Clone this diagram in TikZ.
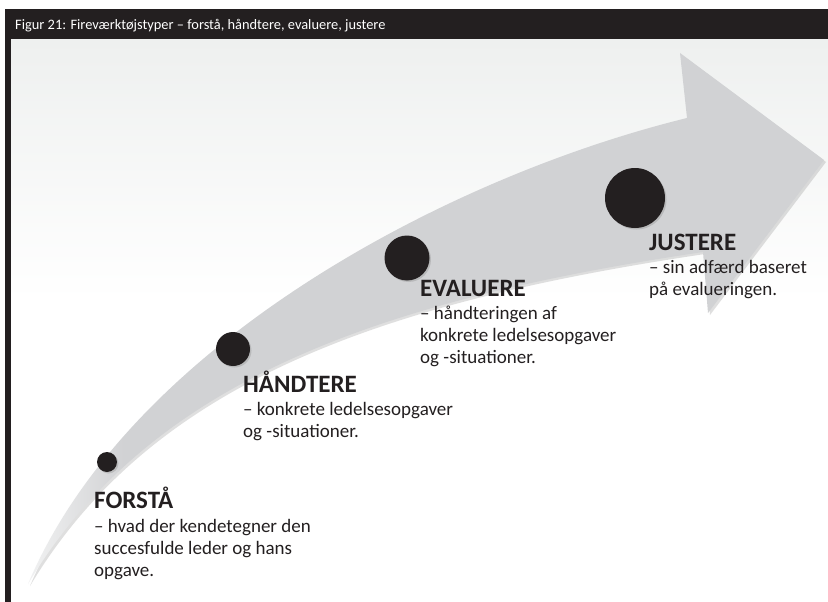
\documentclass[tikz,border=0pt]{standalone}
\usepackage{fontspec}
\setmainfont{Carlito}
\usetikzlibrary{positioning, calc, shadows}
\definecolor{barColor}{RGB}{35,31,32}
\definecolor{arrowColor}{RGB}{209,210,212}
\definecolor{bgColor}{RGB}{238,240,239}
\pgfdeclarehorizontalshading{arrowfade}{100bp}{color(0bp)=(arrowColor!30!white); color(25bp)=(arrowColor!30!white); color(31bp)=(arrowColor); color(100bp)=(arrowColor)}
\tikzstyle{dot} = [circle, inner sep=0pt, fill=barColor, drop shadow={shadow xshift=1.5pt, shadow yshift=-1.5pt, opacity=0.3}]
\tikzstyle{heading} = [anchor=base west, inner sep=0pt, text=barColor, font=\fontsize{25}{27}\selectfont\bfseries]
\tikzstyle{body} = [anchor=base west, inner sep=0pt, align=left, text=barColor, font=\fontsize{19}{22}\selectfont]
\begin{document}
\begin{tikzpicture}[x=1pt, y=-1pt]
\useasboundingbox (0,0) rectangle (828,602);
% background and frame
\fill[white] (10,40) rectangle (828,602);
\shade[top color=bgColor, bottom color=white] (10,40) rectangle (828,300);
\fill[barColor] (5,9) rectangle (828,39);
\fill[barColor] (5,9) rectangle (10.5,602);
\node (title) [anchor=base west, inner sep=0pt, text=white, font=\fontsize{14.4}{16}\selectfont] at (15,29.5) {Figur 21: Fireværktøjstyper – forstå, håndtere, evaluere, justere};

% the big arrow
\path[shade, shading=arrowfade, drop shadow={shadow xshift=2pt, shadow yshift=-2pt, opacity=0.25}]
  (28,584) .. controls (130,343) and (450,176) .. (687,118) -- (680,53) -- (824,160)
  -- (708,313) -- (703,252) .. controls (380,300) and (150,380) .. (28,584) -- cycle;

% dots
\node (dotforsta) [dot, minimum size=20pt] at (107,462) {};
\node (dothandtere) [dot, minimum size=34pt] at (233,349) {};
\node (dotevaluere) [dot, minimum size=45pt] at (407,258) {};
\node (dotjustere) [dot, minimum size=60pt] at (635,198) {};

% labels (base of a text block = its last line)
\node (forsta) [heading] at (94,508) {FORSTÅ};
\node (forstatxt) [body] at ($(forsta.base west)+(0,68)$) {– hvad der kendetegner den\\succesfulde leder og hans\\opgave.};
\node (handtere) [heading] at (243,392) {HÅNDTERE};
\node (handteretxt) [body] at ($(handtere.base west)+(0,45)$) {– konkrete ledelsesopgaver\\og -situationer.};
\node (evaluere) [heading] at (420,296) {EVALUERE};
\node (evalueretxt) [body] at ($(evaluere.base west)+(0,67)$) {– håndteringen af\\konkrete ledelsesopgaver\\og -situationer.};
\node (justere) [heading] at (649,250) {JUSTERE};
\node (justeretxt) [body] at ($(justere.base west)+(0,45)$) {– sin adfærd baseret\\på evalueringen.};
\end{tikzpicture}
\end{document}
